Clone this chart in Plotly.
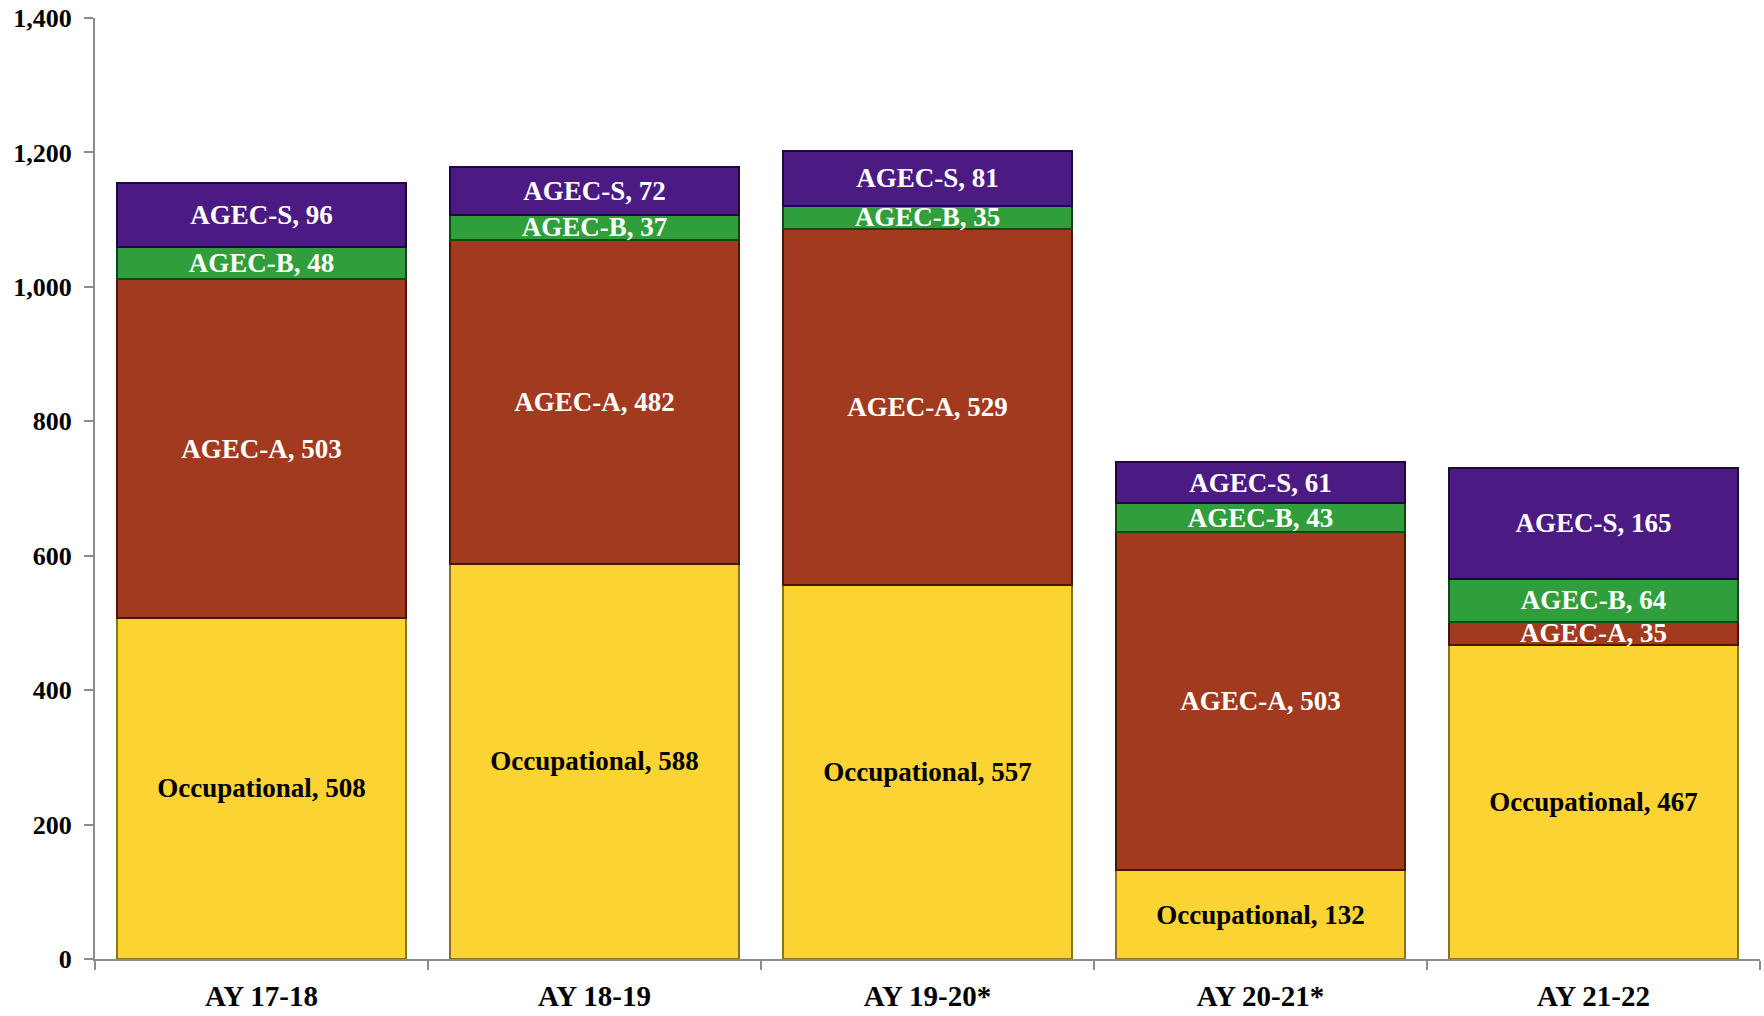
import plotly.graph_objects as go

categories = ["AY 17-18", "AY 18-19", "AY 19-20*", "AY 20-21*", "AY 21-22"]
occupational = [508, 588, 557, 132, 467]
agec_a = [503, 482, 529, 503, 35]
agec_b = [48, 37, 35, 43, 64]
agec_s = [96, 72, 81, 61, 165]
y_ticks = [0, 200, 400, 600, 800, 1000, 1200, 1400]

series = [
    ("Occupational", occupational, "#FBD332", "#8a7318", "black"),
    ("AGEC-A", agec_a, "#A23A20", "#4a1608", "white"),
    ("AGEC-B", agec_b, "#2F9E3B", "#0f4a16", "white"),
    ("AGEC-S", agec_s, "#4B1B83", "#1e0840", "white"),
]

FONT = "Liberation Serif"
fig = go.Figure()
for name, vals, color, edge, tcolor in series:
    fig.add_trace(go.Bar(
        name=name, x=categories, y=vals,
        marker=dict(color=color, line=dict(color=edge, width=2)),
        text=[f"{name}, {v}" for v in vals],
        textposition="inside", insidetextanchor="middle",
        constraintext="none", textangle=0,
        textfont=dict(family=FONT, size=27, color=tcolor, weight="bold"),
        cliponaxis=False,
    ))

fig.update_layout(
    barmode="stack", bargap=0.13,
    width=1764, height=1016,
    margin=dict(l=95, r=4, t=17, b=53),
    plot_bgcolor="white", paper_bgcolor="white",
    showlegend=False,
    font=dict(family=FONT, size=24, color="black"),
)
fig.update_yaxes(
    range=[0, 1400], tickvals=y_ticks, tickformat=",",
    showgrid=False, zeroline=False,
    showline=True, linecolor="#8c8c8c", linewidth=2,
    ticks="outside", ticklen=9, tickcolor="#8c8c8c", tickwidth=2,
    ticklabelstandoff=7,
    tickfont=dict(family=FONT, size=26, color="black", weight="bold"),
)
fig.update_xaxes(
    showgrid=False, showline=True, linecolor="#8c8c8c", linewidth=2,
    ticks="outside", tickson="boundaries", ticklen=9, tickcolor="#8c8c8c", tickwidth=2,
    ticklabelstandoff=10,
    tickfont=dict(family=FONT, size=29, color="black", weight="bold"),
)
fig.write_html(
    "out.html",
    config={"displayModeBar": False},
    post_script="document.body.style.margin='0';document.body.style.overflow='hidden';",
)
